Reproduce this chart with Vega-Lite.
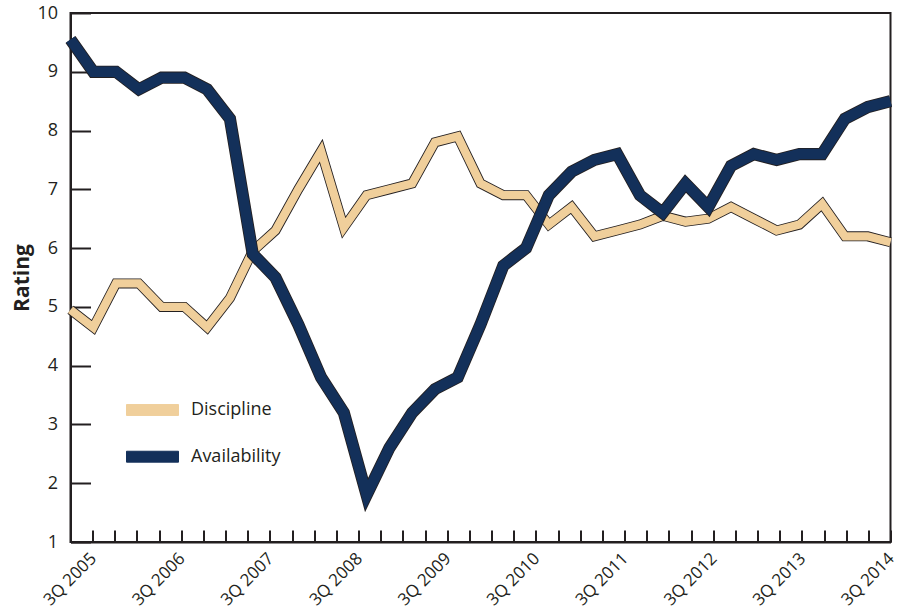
{
  "$schema": "https://vega.github.io/schema/vega-lite/v6.json",
  "width": 820,
  "height": 529,
  "autosize": {"type": "none"},
  "padding": {"left": 70.5, "top": 13, "right": 10.5, "bottom": 71},
  "background": "white",
  "config": {
    "font": "Open Sans",
    "view": {"stroke": "#231f20", "strokeWidth": 2}
  },
  "data": {
    "values": [
      {"i": 0, "quarter": "3Q 2005", "Discipline": 4.95, "Availability": 9.55},
      {"i": 1, "quarter": "4Q 2005", "Discipline": 4.65, "Availability": 9.0},
      {"i": 2, "quarter": "1Q 2006", "Discipline": 5.4, "Availability": 9.0},
      {"i": 3, "quarter": "2Q 2006", "Discipline": 5.4, "Availability": 8.7},
      {"i": 4, "quarter": "3Q 2006", "Discipline": 5.0, "Availability": 8.9},
      {"i": 5, "quarter": "4Q 2006", "Discipline": 5.0, "Availability": 8.9},
      {"i": 6, "quarter": "1Q 2007", "Discipline": 4.65, "Availability": 8.7},
      {"i": 7, "quarter": "2Q 2007", "Discipline": 5.15, "Availability": 8.2},
      {"i": 8, "quarter": "3Q 2007", "Discipline": 5.95, "Availability": 5.9},
      {"i": 9, "quarter": "4Q 2007", "Discipline": 6.3, "Availability": 5.5},
      {"i": 10, "quarter": "1Q 2008", "Discipline": 7.0, "Availability": 4.7},
      {"i": 11, "quarter": "2Q 2008", "Discipline": 7.65, "Availability": 3.8},
      {"i": 12, "quarter": "3Q 2008", "Discipline": 6.35, "Availability": 3.2},
      {"i": 13, "quarter": "4Q 2008", "Discipline": 6.9, "Availability": 1.8},
      {"i": 14, "quarter": "1Q 2009", "Discipline": 7.0, "Availability": 2.6},
      {"i": 15, "quarter": "2Q 2009", "Discipline": 7.1, "Availability": 3.2},
      {"i": 16, "quarter": "3Q 2009", "Discipline": 7.8, "Availability": 3.6},
      {"i": 17, "quarter": "4Q 2009", "Discipline": 7.9, "Availability": 3.8},
      {"i": 18, "quarter": "1Q 2010", "Discipline": 7.1, "Availability": 4.7},
      {"i": 19, "quarter": "2Q 2010", "Discipline": 6.9, "Availability": 5.7},
      {"i": 20, "quarter": "3Q 2010", "Discipline": 6.9, "Availability": 6.0},
      {"i": 21, "quarter": "4Q 2010", "Discipline": 6.4, "Availability": 6.9},
      {"i": 22, "quarter": "1Q 2011", "Discipline": 6.7, "Availability": 7.3},
      {"i": 23, "quarter": "2Q 2011", "Discipline": 6.2, "Availability": 7.5},
      {"i": 24, "quarter": "3Q 2011", "Discipline": 6.3, "Availability": 7.6},
      {"i": 25, "quarter": "4Q 2011", "Discipline": 6.4, "Availability": 6.9},
      {"i": 26, "quarter": "1Q 2012", "Discipline": 6.55, "Availability": 6.6},
      {"i": 27, "quarter": "2Q 2012", "Discipline": 6.45, "Availability": 7.1},
      {"i": 28, "quarter": "3Q 2012", "Discipline": 6.5, "Availability": 6.7},
      {"i": 29, "quarter": "4Q 2012", "Discipline": 6.7, "Availability": 7.4},
      {"i": 30, "quarter": "1Q 2013", "Discipline": 6.5, "Availability": 7.6},
      {"i": 31, "quarter": "2Q 2013", "Discipline": 6.3, "Availability": 7.5},
      {"i": 32, "quarter": "3Q 2013", "Discipline": 6.4, "Availability": 7.6},
      {"i": 33, "quarter": "4Q 2013", "Discipline": 6.75, "Availability": 7.6},
      {"i": 34, "quarter": "1Q 2014", "Discipline": 6.2, "Availability": 8.2},
      {"i": 35, "quarter": "2Q 2014", "Discipline": 6.2, "Availability": 8.4},
      {"i": 36, "quarter": "3Q 2014", "Discipline": 6.1, "Availability": 8.5}
    ]
  },
  "transform": [{"fold": ["Discipline", "Availability"], "as": ["series", "value"]}],
  "encoding": {
    "x": {
      "field": "i",
      "type": "quantitative",
      "scale": {"domain": [0, 36], "nice": false, "zero": false},
      "axis": {
        "title": null,
        "grid": false,
        "values": [0.972973, 1.945946, 2.918919, 3.891892, 4.864865, 5.837838, 6.810811, 7.783784, 8.756757, 9.72973, 10.702703, 11.675676, 12.648649, 13.621622, 14.594595, 15.567568, 16.540541, 17.513514, 18.486486, 19.459459, 20.432432, 21.405405, 22.378378, 23.351351, 24.324324, 25.297297, 26.27027, 27.243243, 28.216216, 29.189189, 30.162162, 31.135135, 32.108108, 33.081081, 34.054054, 35.027027, 36],
        "labelExpr": "(round(datum.value*37/36) - 1) % 4 === 0 ? '3Q ' + (2005 + (round(datum.value*37/36) - 1) / 4) : ''",
        "labelAngle": -45,
        "labelAlign": "right",
        "labelBaseline": "top",
        "labelFont": "Open Sans",
        "labelFontSize": 17,
        "labelColor": "#231f20",
        "labelOverlap": false,
        "labelBound": false,
        "labelFlush": false,
        "labelPadding": 20,
        "labelOffset": -5,
        "tickSize": -12,
        "tickWidth": 2,
        "tickColor": "#231f20",
        "domainColor": "#231f20",
        "domainWidth": 2
      }
    },
    "y": {
      "field": "value",
      "type": "quantitative",
      "scale": {"domain": [1, 10], "nice": false, "zero": false},
      "axis": {
        "title": "Rating",
        "titleFont": "Open Sans",
        "titleFontWeight": "bold",
        "titleFontSize": 21,
        "titleColor": "#231f20",
        "titlePadding": 4,
        "grid": false,
        "values": [1, 2, 3, 4, 5, 6, 7, 8, 9, 10],
        "labelFont": "Open Sans",
        "labelFontSize": 18,
        "labelColor": "#231f20",
        "labelPadding": 33,
        "tickSize": -20,
        "tickWidth": 2,
        "tickColor": "#231f20",
        "domainColor": "#231f20",
        "domainWidth": 2
      }
    }
  },
  "layer": [
    {
      "transform": [{"filter": "datum.series === 'Discipline'"}],
      "mark": {"type": "line", "color": "#231f20", "strokeWidth": 10, "strokeJoin": "miter", "strokeMiterLimit": 10}
    },
    {
      "transform": [{"filter": "datum.series === 'Discipline'"}],
      "mark": {"type": "line", "strokeWidth": 8.3, "strokeJoin": "miter", "strokeMiterLimit": 10},
      "encoding": {
        "color": {
          "field": "series",
          "type": "nominal",
          "scale": {"domain": ["Discipline", "Availability"], "range": ["#f0cf9b", "#13305a"]},
          "legend": {
            "orient": "none",
            "legendX": 55.5,
            "legendY": 387,
            "title": null,
            "symbolType": "M-1,-0.21H1V0.21H-1Z",
            "symbolSize": 2704,
            "clipHeight": 20,
            "rowPadding": 26.7,
            "labelOffset": 12,
            "labelFont": "Open Sans",
            "labelFontSize": 18,
            "labelColor": "#231f20",
            "encode": {
              "symbols": {
                "update": {
                  "fill": {"scale": "color", "field": "value"},
                  "stroke": {"value": "#231f20"},
                  "strokeWidth": {"value": 1},
                  "opacity": {"value": 1}
                }
              }
            }
          }
        }
      }
    },
    {
      "transform": [{"filter": "datum.series === 'Availability'"}],
      "mark": {"type": "line", "color": "#231f20", "strokeWidth": 12.2, "strokeJoin": "miter", "strokeMiterLimit": 10}
    },
    {
      "transform": [{"filter": "datum.series === 'Availability'"}],
      "mark": {"type": "line", "strokeWidth": 10.5, "strokeJoin": "miter", "strokeMiterLimit": 10},
      "encoding": {
        "color": {"field": "series", "type": "nominal"}
      }
    }
  ]
}
